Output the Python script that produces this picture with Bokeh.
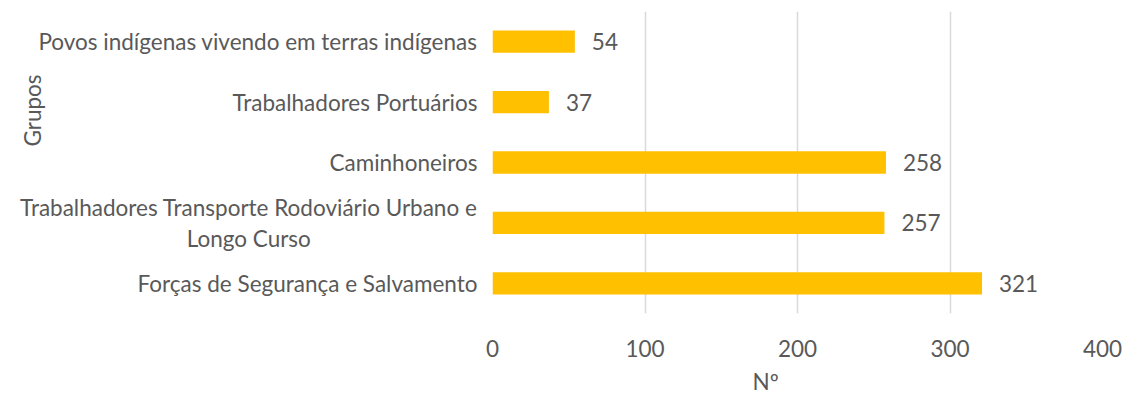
from bokeh.plotting import figure
from bokeh.models import ColumnDataSource, Label, LabelSet, FactorRange, Title
from bokeh.layouts import row
from bokeh.core.properties import value
from bokeh.embed import file_html
from bokeh.resources import INLINE

groups = [
    "Forças de Segurança e Salvamento",
    "Trabalhadores Transporte Rodoviário Urbano e\nLongo Curso",
    "Caminhoneiros",
    "Trabalhadores Portuários",
    "Povos indígenas vivendo em terras indígenas",
]
values = [321, 257, 258, 37, 54]
x_ticks = [0, 100, 200, 300, 400]

FONT = "Lato"
FS = "22.5px"
TXT = "#595959"

src = ColumnDataSource(dict(g=groups, v=values, lbl=[str(v) for v in values]))
yr = FactorRange(*groups)

# ---- bar chart ----
p = figure(width=645, height=402, y_range=yr, x_range=(0, 400),
           output_backend="svg", toolbar_location=None,
           min_border_left=13, min_border_right=22, min_border_top=11, min_border_bottom=89)
p.outline_line_color = None
p.hbar(y="g", right="v", left=0, height=0.37, source=src, color="#FFC000", line_color=None)
p.add_layout(LabelSet(x="v", y="g", text="lbl", source=src, x_offset=17, y_offset=0,
                      text_baseline="middle", text_font=value(FONT), text_font_size=value(FS),
                      text_color=TXT))
p.yaxis.visible = False
p.xaxis.ticker = x_ticks
p.xaxis.axis_line_color = None
p.xaxis.major_tick_line_color = None
p.xaxis.minor_tick_line_color = None
p.xaxis.major_label_text_font = FONT
p.xaxis.major_label_text_font_size = FS
p.xaxis.major_label_text_color = TXT
p.xaxis.major_label_standoff = 20
p.ygrid.grid_line_color = None
p.xgrid.grid_line_color = "#D9D9D9"
p.xgrid.grid_line_width = 1.5
p.add_layout(Title(text="Nº", align="left", offset=260, standoff=12,
                   text_font=FONT, text_font_size=FS, text_font_style="normal",
                   text_color=TXT), "below")

# ---- category label panel ----
q = figure(width=479, height=402, y_range=yr, x_range=(0, 1),
           output_backend="svg", toolbar_location=None,
           min_border_left=0, min_border_right=0, min_border_top=11, min_border_bottom=89)
q.outline_line_color = None
q.xaxis.visible = False
q.yaxis.visible = False
q.grid.grid_line_color = None
q.text(x=1, y="g", text="g", source=src, x_offset=-2, anchor="center_right",
       text_align="center", text_baseline="middle", text_font=value(FONT),
       text_font_size=value(FS), text_color=TXT, text_line_height=1.15)
q.add_layout(Label(x=32, y=203, x_units="screen", y_units="screen", text="Grupos",
                   angle=1.5708, text_align="center", text_baseline="middle",
                   text_font=FONT, text_font_size=FS, text_color=TXT))

open("out.html", "w").write(file_html(row(q, p), INLINE))
